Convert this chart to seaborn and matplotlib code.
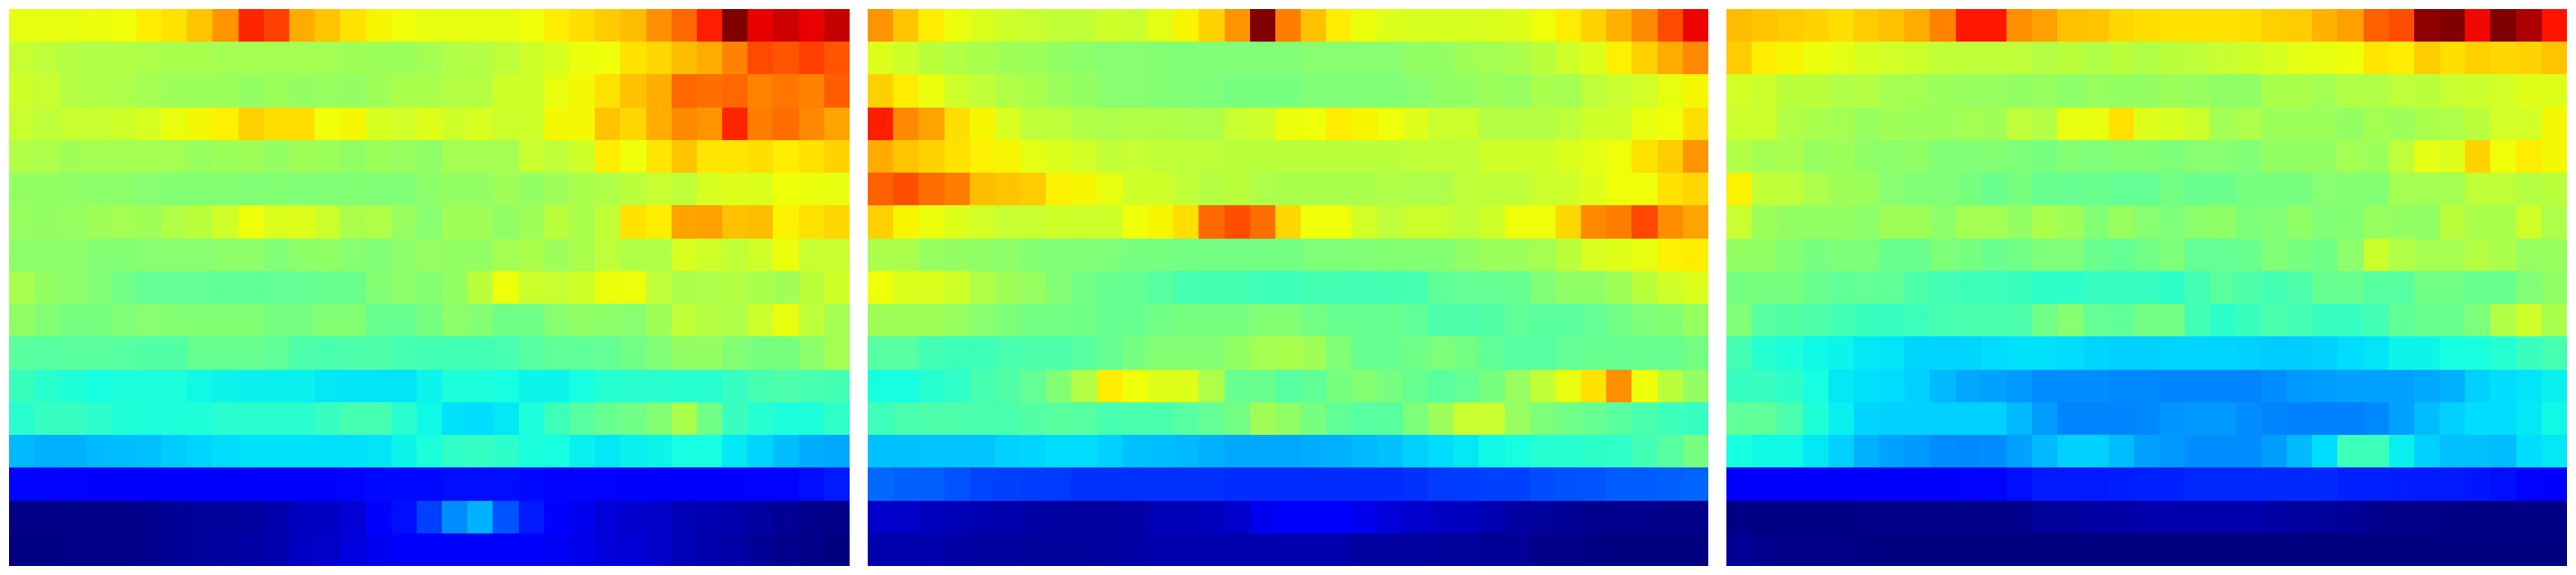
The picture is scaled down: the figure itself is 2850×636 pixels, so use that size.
import numpy as np
import matplotlib
matplotlib.use('Agg')
import matplotlib.pyplot as plt
import seaborn as sns

# values, as a percent of the colour range (row 0 = top)
left_panel = [
    [63, 63, 63, 63.5, 64, 66, 67, 70, 75, 87, 84, 73, 70, 67, 65, 64, 63, 63, 63, 63, 64, 66, 67.5, 69.5, 71, 75.5, 80, 87.5, 100, 91, 93, 91, 94],
    [59, 58, 57, 56.5, 56.5, 56, 55.5, 55.5, 55, 55, 55, 55, 55, 54.5, 54, 54, 55, 56.5, 57, 58, 60, 61, 63.5, 64, 67, 68, 71, 73, 77, 83, 82, 84, 82],
    [60, 59, 57, 56.5, 56, 55, 54, 54, 54, 53, 54, 53, 53.5, 53, 54.5, 55.5, 55.5, 57, 57, 60, 60, 63, 64.5, 67, 70.5, 72.5, 80, 79, 80, 77, 78.5, 77, 81],
    [59, 58, 59, 59, 60, 61, 63, 64.5, 65.5, 69, 67.5, 67.5, 64, 64.5, 61, 60.5, 62, 60, 61, 59.5, 60, 64.5, 64.5, 70, 68, 72.5, 76.5, 75, 87, 77.5, 79.5, 76.5, 73.5],
    [56.5, 56, 54.5, 55, 55, 55, 55, 53.5, 54, 54.5, 53, 54.5, 54, 52.5, 54, 53.5, 52.5, 55, 55, 55, 59, 58, 60, 66, 64, 66.5, 70, 66.5, 66.5, 67.5, 66, 67, 68.5],
    [53, 53, 52.5, 52, 52, 51.5, 51, 51, 51, 50.5, 51, 50.5, 50.5, 51, 50.5, 50.5, 52, 53, 53, 54.5, 53, 54.5, 55.5, 56, 57.5, 59, 58, 61, 62, 61.5, 64, 63.5, 63],
    [53.5, 53, 53.5, 54.5, 55, 54.5, 56.5, 57.5, 60, 64, 61.5, 62, 59.5, 55.5, 56.5, 53.5, 51.5, 54.5, 54.5, 52.5, 54.5, 57.5, 55.5, 58.5, 67, 66, 73.5, 74, 70.5, 71, 65.5, 67, 68],
    [52, 52, 52, 51, 51, 51.5, 51.5, 51.5, 52, 52, 50.5, 52, 52.5, 51.5, 50.5, 52, 53.5, 53, 53, 55, 55.5, 54, 55.5, 58, 56.5, 56.5, 61, 60, 58.5, 60, 63.5, 59, 59],
    [55.5, 53, 52, 50.5, 48.5, 47, 47, 47, 46.5, 46.5, 47, 47, 47.5, 48, 51, 52, 51, 53, 57.5, 64, 59.5, 59, 60, 63.5, 64, 58, 55.5, 56, 57, 55.5, 54.5, 57.5, 60],
    [52.5, 51, 49.5, 49.5, 50.5, 51.5, 51, 51, 51, 51, 49.5, 49.5, 51, 51, 47.5, 47.5, 49.5, 52, 51, 48.5, 48.5, 51.5, 52.5, 52, 51.5, 54.5, 58.5, 57, 56.5, 59.5, 63, 58, 55],
    [46, 45.5, 46, 46, 45.5, 45, 45, 47.5, 47.5, 47.5, 46.5, 44.5, 44, 44.5, 44.5, 43.5, 43, 43, 43, 43.5, 45.5, 46.5, 46.5, 47, 48.5, 50.5, 53, 53, 51, 49.5, 49.5, 52, 55],
    [42, 40, 39, 37.5, 38.5, 38.5, 38.5, 37, 36.5, 36, 36, 36, 35.5, 35, 35, 35, 36.5, 38.5, 38.5, 37.5, 36.5, 36.5, 37.5, 39.5, 40, 40, 39.5, 40, 41.5, 43.5, 44.5, 43.5, 43],
    [40, 41.5, 41.5, 40.5, 39, 38.5, 38.5, 39, 40, 40, 40, 40, 41.5, 43.5, 43.5, 40, 37, 34.5, 34, 35.5, 38.5, 42.5, 45.5, 47.5, 48.5, 51, 55.5, 48.5, 42, 39.5, 38.5, 38.5, 41],
    [30.5, 30, 30, 30.5, 31, 31.5, 32.5, 33.5, 34, 34.5, 34.5, 34.5, 34.5, 34.5, 35, 36.5, 38.5, 41, 41.5, 40.5, 38, 37.5, 36, 35.5, 36, 36.5, 37.5, 37.5, 35.5, 33.5, 31, 29.5, 29],
    [13, 13, 12.5, 12, 12, 12, 12, 12, 12, 12, 12, 12, 12, 13, 13.5, 13.5, 13.5, 14, 14, 14, 13.5, 13, 13, 12.5, 12, 12, 11.5, 11.5, 12, 12.5, 13, 14, 15],
    [1, 1, 1, 1, 1, 1.5, 2, 2.5, 2.5, 3, 4, 5.5, 6, 7.5, 11, 14, 19, 26.5, 30, 21, 15, 11, 10, 8, 7, 6.5, 5, 4.5, 4, 3, 2, 1.5, 1],
    [0.5, 0.5, 1, 1, 1, 1.5, 2, 2.5, 3, 3.5, 4, 6, 6.5, 8.5, 10, 11, 11, 12, 12, 11.5, 11.5, 10.5, 9.5, 8, 7.5, 6.5, 5, 4, 3.5, 2, 1.5, 1, 0],
]

middle_panel = [
    [75, 70, 66, 63.5, 61.5, 60, 59, 58.5, 58.5, 60, 59.5, 62.5, 65, 68.5, 75, 100, 77.5, 70.5, 66, 63.5, 62, 61, 61, 61, 61.5, 62, 64, 66, 68.5, 72, 76.5, 83, 90.5],
    [62, 60, 57.5, 56.5, 55.5, 54.5, 54, 53, 52, 51.5, 51.5, 51, 50.5, 50.5, 50.5, 50.5, 50.5, 51.5, 51.5, 51.5, 51.5, 53, 53, 54.5, 55, 55.5, 57.5, 60, 62, 65.5, 69, 73, 76.5],
    [69, 66, 63.5, 60, 58.5, 56.5, 55.5, 54, 53, 51.5, 51.5, 51, 50.5, 50, 49.5, 49.5, 49.5, 50.5, 50.5, 50.5, 50.5, 51.5, 52.5, 53, 54, 53.5, 55.5, 55, 58, 59, 60.5, 63, 64.5],
    [87.5, 76.5, 73.5, 67.5, 65, 61, 58, 58, 56.5, 56, 56.5, 56.5, 56, 56, 59, 60, 63.5, 64, 66, 65, 64, 62, 59.5, 59.5, 57, 57, 57, 58, 60, 60, 63, 64, 67.5],
    [73, 70, 68.5, 67, 65.5, 65, 62.5, 61.5, 60.5, 58.5, 59, 58.5, 58, 58, 57.5, 57.5, 57.5, 57.5, 57.5, 57.5, 57.5, 58, 58.5, 58, 60, 60, 60, 61.5, 62.5, 64, 67, 69.5, 75],
    [80.5, 82.5, 79.5, 77.5, 71, 70, 69.5, 65.5, 65, 63, 60, 60, 58.5, 57, 57.5, 56, 55.5, 55.5, 55.5, 55.5, 56.5, 56, 56, 58, 58, 58, 59.5, 60, 62, 64, 64, 67, 68],
    [69, 65, 63.5, 62, 60.5, 59, 59, 60, 59.5, 60, 64, 65, 67.5, 80, 82.5, 79, 68, 64, 64, 60.5, 58, 59.5, 59.5, 58, 60, 64, 64, 68, 76.5, 77.5, 83.5, 76, 73.5],
    [55.5, 55.5, 53.5, 53, 52.5, 52, 51, 50.5, 50.5, 50, 49.5, 49.5, 49, 49, 49, 49, 49, 50, 50, 50.5, 51, 51, 51, 52.5, 54, 54, 55, 57.5, 61, 62, 63, 65.5, 66],
    [64, 61.5, 61.5, 60, 56.5, 54.5, 53.5, 51, 48.5, 47.5, 47, 45.5, 43.5, 43, 43, 42.5, 42.5, 43, 43, 43, 43, 43.5, 46.5, 47, 47, 47.5, 50.5, 52.5, 52.5, 54.5, 57.5, 60, 61.5],
    [54.5, 54.5, 54.5, 53.5, 51.5, 50, 49, 49, 48.5, 47.5, 47.5, 48.5, 49.5, 49.5, 49.5, 51, 51, 49, 47.5, 47.5, 47.5, 46.5, 44.5, 44.5, 45, 46.5, 46, 46, 47, 48.5, 50, 51, 53.5],
    [45.5, 45.5, 43, 42.5, 42.5, 44, 44.5, 44.5, 45.5, 47.5, 49.5, 51, 51, 51, 53, 55, 55.5, 54.5, 50.5, 47.5, 47.5, 48.5, 50, 49, 46.5, 45.5, 45.5, 47, 47.5, 47.5, 47.5, 47.5, 49],
    [37.5, 37.5, 39.5, 41, 43.5, 45, 47, 51, 56.5, 66, 64, 62, 62, 56, 47.5, 48, 45.5, 46.5, 49.5, 51, 49.5, 47.5, 46, 47, 49.5, 53.5, 58.5, 63, 67, 75.5, 64, 57.5, 53],
    [42.5, 44, 44.5, 44.5, 44, 44, 45, 46, 45.5, 43.5, 44, 44, 45.5, 47, 49, 54.5, 52.5, 49.5, 46.5, 45.5, 46, 50, 54, 59, 59, 53.5, 50, 48.5, 47.5, 46, 44, 42.5, 41.5],
    [31.5, 31.5, 32, 32, 32, 33, 33.5, 34, 34, 33, 31.5, 31, 30.5, 30, 29, 29, 29, 29.5, 30, 30.5, 31.5, 33, 34, 35.5, 37, 37.5, 39.5, 39.5, 40.5, 41, 43, 45.5, 49.5],
    [23, 22, 22, 21, 19.5, 19, 18.5, 18, 17.5, 17.5, 17.5, 17.5, 17.5, 17.5, 17, 17, 17, 17, 17, 17, 17, 17.5, 18, 18.5, 19, 19, 20, 20.5, 21, 21.5, 21.5, 22, 22.5],
    [7, 6.5, 5.5, 5, 4.5, 4, 3.5, 3, 3, 3, 3.5, 5, 5, 5.5, 7, 10, 11, 11.5, 11.5, 9.5, 8, 7, 6, 5.5, 4.5, 3, 2.5, 2, 1.5, 1.5, 1.5, 1, 1],
    [4, 4, 4, 3.5, 3, 3, 2.5, 2.5, 2.5, 3, 3.5, 4, 4, 4, 4, 4, 4, 4, 4, 3, 3, 3, 2.5, 2.5, 2, 2, 1, 1, 0.5, 0, 0, 0, 0],
]

right_panel = [
    [71, 70, 69.5, 68.5, 67.5, 69.5, 70.5, 73, 77, 88.5, 88.5, 75.5, 74, 70.5, 70, 68, 67.5, 67, 67, 67, 67.5, 69, 69.5, 72, 74, 80.5, 82.5, 98.5, 100, 90, 100, 96, 89],
    [69.5, 66, 65, 63.5, 62.5, 61, 60.5, 59.5, 58.5, 58, 58, 58, 57, 57.5, 56.5, 57.5, 56.5, 57.5, 58, 59, 60, 61, 62.5, 63, 64, 66.5, 66, 69.5, 67.5, 69, 68, 68.5, 70],
    [60.5, 59.5, 57.5, 57.5, 56.5, 57, 55, 55, 54, 53.5, 53.5, 53, 53.5, 52, 53.5, 53, 53, 54, 53.5, 52.5, 52.5, 55.5, 55.5, 55, 56.5, 56.5, 58, 57.5, 59, 59.5, 60.5, 62, 62],
    [59.5, 59.5, 56.5, 55.5, 55, 53.5, 54.5, 54, 54, 55, 54.5, 58, 57, 63, 63, 67, 62, 61, 59.5, 55, 56, 54, 54, 54, 53, 55, 54, 55.5, 56, 57.5, 60.5, 60.5, 64.5],
    [56.5, 55, 55.5, 53.5, 54, 52.5, 52, 52.5, 50.5, 50.5, 51, 50, 49.5, 51, 50, 51, 51, 50, 51.5, 51.5, 50.5, 53, 53, 53, 55, 54, 58, 62.5, 62, 68.5, 64, 66, 64.5],
    [65.5, 58.5, 58, 56, 54.5, 54, 51.5, 50.5, 50.5, 49.5, 48, 49.5, 48, 47.5, 48, 47, 47, 49, 48, 48, 49.5, 49.5, 49.5, 51.5, 51, 51, 55, 55, 55, 58, 58, 57, 57.5],
    [59, 54, 53, 53, 53, 52, 54.5, 54.5, 52, 55, 55, 53, 55.5, 54.5, 51, 53.5, 51.5, 50, 52, 52.5, 50, 50.5, 52.5, 50.5, 51, 53.5, 53, 52.5, 57.5, 55.5, 55.5, 60, 56],
    [53, 53, 51, 49.5, 50, 50, 48, 48, 50, 49.5, 48, 48.5, 50, 50, 48, 47, 48.5, 50, 47, 47, 48, 50.5, 49.5, 48.5, 52, 59.5, 56.5, 55, 55, 57, 55.5, 53.5, 53.5],
    [49.5, 49.5, 49.5, 48, 46.5, 47, 46.5, 44.5, 43, 42.5, 42.5, 42, 40.5, 40.5, 41.5, 41.5, 41.5, 40.5, 43, 46, 44.5, 43, 44.5, 47.5, 47.5, 45.5, 45.5, 48.5, 48.5, 47.5, 47.5, 50.5, 52.5],
    [50.5, 45.5, 45, 44.5, 43, 42, 41.5, 42.5, 43.5, 44, 44, 44.5, 48.5, 51.5, 47, 46.5, 49, 49, 43, 40.5, 42, 44, 43, 41.5, 41.5, 43, 46.5, 48, 48, 50, 56.5, 60, 55.5],
    [43, 39.5, 38.5, 37, 36.5, 35.5, 35, 33.5, 33.5, 33.5, 34, 34.5, 34.5, 34, 33.5, 33, 33, 33.5, 33.5, 33.5, 33, 32.5, 32.5, 33, 34, 35, 36.5, 36.5, 37.5, 38, 39.5, 42, 43.5],
    [41.5, 41.5, 40.5, 37.5, 35.5, 34.5, 34, 33, 30.5, 29, 28.5, 27.5, 26.5, 26.5, 26.5, 26, 26, 25.5, 25.5, 25.5, 25.5, 26.5, 27.5, 28, 28.5, 28.5, 28.5, 29, 30, 33, 34, 35, 36],
    [46.5, 46.5, 44, 39, 36, 33.5, 33, 33, 33, 33, 33, 30.5, 28, 25.5, 25.5, 25.5, 26, 27, 27.5, 27.5, 26.5, 25.5, 25, 25, 25, 26, 28.5, 31, 33, 34, 34, 35.5, 37],
    [37.5, 37, 37, 35.5, 33, 30, 28.5, 27.5, 26.5, 26, 26.5, 28.5, 30.5, 33, 33, 31, 28.5, 27.5, 26.5, 26.5, 26.5, 28, 30.5, 34, 42.5, 42.5, 36, 33, 31.5, 31.5, 31, 34, 35.5],
    [11.5, 11.5, 11.5, 11.5, 11, 11, 11, 11.5, 12, 12.5, 13, 14, 15, 15, 15, 15.5, 16, 16, 16.5, 16.5, 16.5, 16.5, 16.5, 16.5, 16, 16, 15.5, 15, 15, 14.5, 14, 12.5, 12],
    [0.5, 0.5, 0.5, 0.5, 0.5, 1, 1, 1, 1, 1, 1, 1.5, 2.5, 2.5, 3.5, 3.5, 4, 4, 4, 4, 4, 3.5, 3, 2.5, 2, 1.5, 1, 1, 0.5, 0.5, 0.5, 0.5, 0.5],
    [2, 1.5, 1, 1, 1, 0.5, 0.3, 0.2, 0.2, 0.2, 0.2, 0.2, 0.2, 0.2, 0.2, 0.2, 0.2, 0.2, 0.2, 0.2, 0.2, 0.2, 0.2, 0.2, 0.1, 0.1, 0, 0, 0, 0, 0, 0, 0],
]

panels = [left_panel, middle_panel, right_panel]
panel_left_px = [10, 960, 1910]

fig = plt.figure(figsize=(28.5, 6.36), dpi=100)

for values, left_px in zip(panels, panel_left_px):
    ax = fig.add_axes([left_px / 2850, 10 / 636, 930 / 2850, 616 / 636])
    sns.heatmap(np.array(values), cmap='jet', vmin=0, vmax=100, cbar=False,
                xticklabels=False, yticklabels=False, rasterized=True, ax=ax)

plt.savefig('out.png', dpi=100)
